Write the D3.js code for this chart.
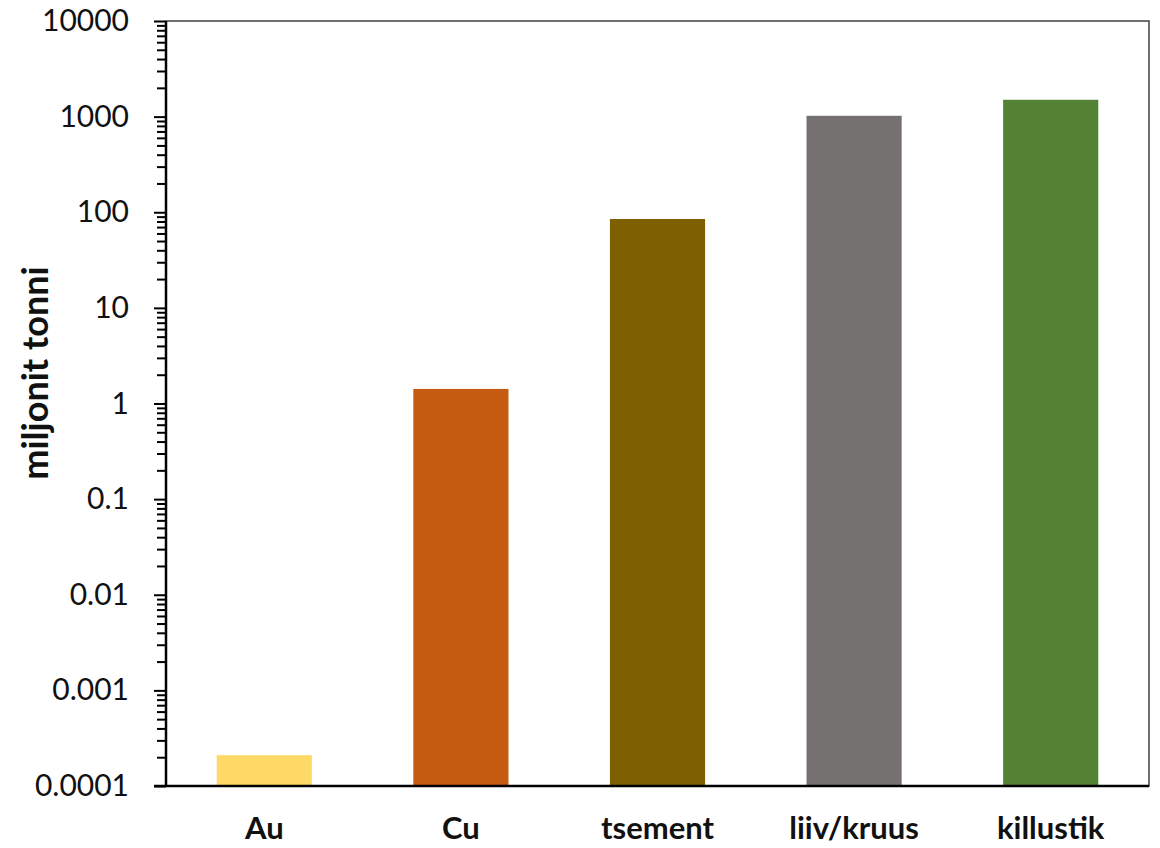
<!DOCTYPE html>
<html>
<head>
  <meta charset="utf-8" />
  <title>miljonit tonni</title>
  <script src="https://cdnjs.cloudflare.com/ajax/libs/d3/7.8.5/d3.min.js"></script>
  <style>
    body { margin: 0; background: #fff; }
    text { font-family: Lato, "Open Sans", sans-serif; }
  </style>
</head>
<body>
  <svg id="chart" width="1160" height="848"></svg>
  <script>
    let categories = ['Au', 'Cu', 'tsement', 'liiv/kruus', 'killustik']
    let values = [0.00021, 1.42, 85, 1020, 1500]
    let colors = ['#FFD966', '#C55A11', '#7F6000', '#767171', '#548235']
    let tickValues = [0.0001, 0.001, 0.01, 0.1, 1, 10, 100, 1000, 10000]
    let tickLabels = ['0.0001', '0.001', '0.01', '0.1', '1', '10', '100', '1000', '10000']

    let plotLeft = 166, plotRight = 1149, plotTop = 21, plotBottom = 786
    let svg = d3.select('#chart')

    let x = d3.scaleBand().domain(categories).range([plotLeft, plotRight]).paddingInner(0.516).paddingOuter(0.258)
    let y = d3.scaleLog().domain([0.0001, 10000]).range([plotBottom, plotTop])

    // frame
    svg.append('rect')
      .attr('x', plotLeft).attr('y', plotTop)
      .attr('width', plotRight - plotLeft).attr('height', plotBottom - plotTop)
      .attr('fill', 'none').attr('stroke', '#404040').attr('stroke-width', 1.5)

    // bars
    svg.selectAll('rect.bar')
      .data(values)
      .enter()
      .append('rect')
      .attr('class', 'bar')
      .attr('x', function(d, i) { return x(categories[i]) })
      .attr('width', x.bandwidth())
      .attr('y', function(d) { return y(d) })
      .attr('height', function(d) { return plotBottom - y(d) })
      .attr('fill', function(d, i) { return colors[i] })

    // minor ticks
    let minor = []
    for (let e = -4; e < 4; e++) {
      for (let m = 2; m <= 9; m++) minor.push(m * Math.pow(10, e))
    }
    let minorAxis = d3.axisLeft(y).tickValues(minor).tickSize(9).tickFormat('')
    let gMinor = svg.append('g').attr('transform', 'translate(' + plotLeft + ',0)').call(minorAxis)
    gMinor.select('.domain').remove()
    gMinor.selectAll('line').attr('stroke', '#000').attr('stroke-width', 2)

    // major ticks
    let yAxis = d3.axisLeft(y).tickValues(tickValues).tickSize(12).tickPadding(25)
      .tickFormat(function(d, i) { return tickLabels[i] })
    let gy = svg.append('g').attr('transform', 'translate(' + plotLeft + ',0)').call(yAxis)
    gy.select('.domain').attr('stroke', '#000').attr('stroke-width', 2.5)
      .attr('d', 'M0,' + plotTop + 'V' + plotBottom)
    gy.selectAll('line').attr('stroke', '#000').attr('stroke-width', 2)
    gy.selectAll('text').attr('font-size', 30).attr('fill', '#111')
      .style('font-family', 'Lato, "Open Sans", sans-serif')

    // x axis
    let xAxis = d3.axisBottom(x).tickSize(0).tickPadding(31)
    let gx = svg.append('g').attr('transform', 'translate(0,' + plotBottom + ')').call(xAxis)
    gx.select('.domain').attr('stroke', '#000').attr('stroke-width', 2.5)
      .attr('d', 'M' + (plotLeft - 12) + ',0H' + plotRight)
    gx.selectAll('text').attr('font-size', 31).attr('font-weight', 'bold').attr('fill', '#111')
      .style('font-family', 'Lato, "Open Sans", sans-serif')

    // y label
    svg.append('text')
      .attr('transform', 'translate(48,373) rotate(-90)')
      .attr('text-anchor', 'middle')
      .attr('font-size', 36)
      .attr('font-weight', 'bold')
      .attr('fill', '#111')
      .text('miljonit tonni')
  </script>
</body>
</html>
